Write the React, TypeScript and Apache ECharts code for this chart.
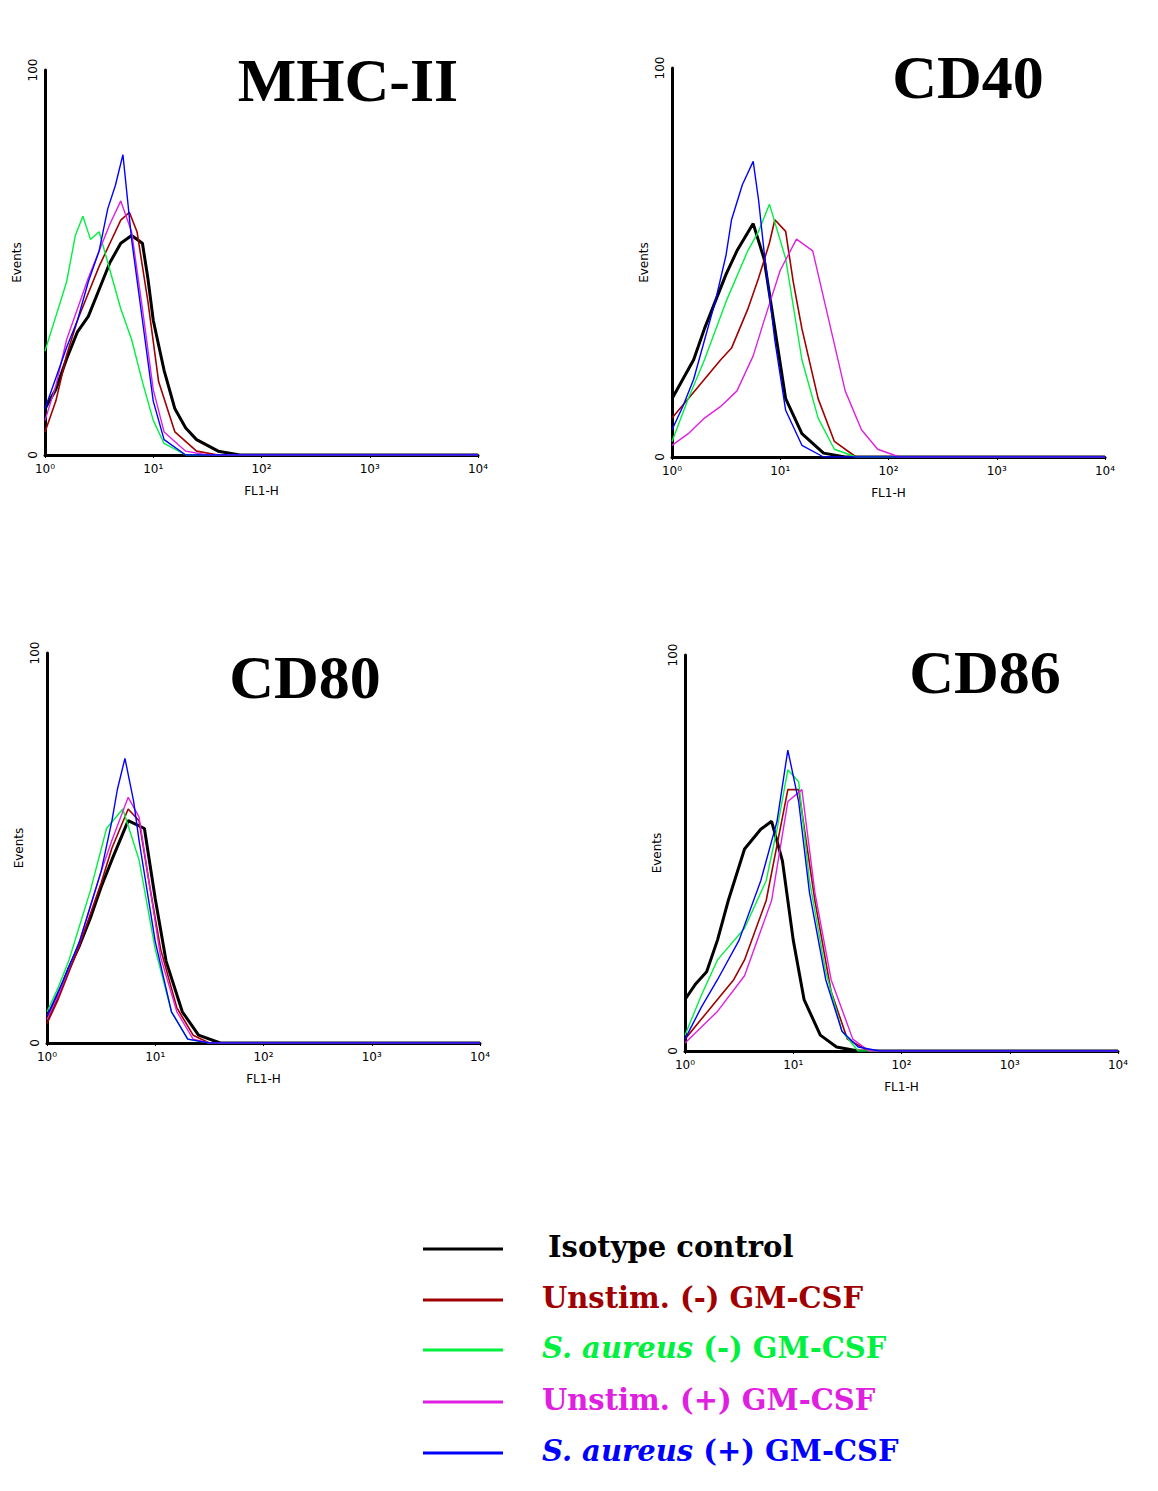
import { useEffect, useRef } from "react";
import * as echarts from "echarts";

// x in decades (log10 of FL1-H), y = events (%)
const decadeLabels = ["10⁰", "10¹", "10²", "10³", "10⁴"];
const seriesNames = ["Isotype control", "Unstim. (-) GM-CSF", "S. aureus (-) GM-CSF", "Unstim. (+) GM-CSF", "S. aureus (+) GM-CSF"];
const colors = ["#000000", "#a00000", "#00f040", "#e020e0", "#0000ff"];
const widths = [3, 1.6, 1.4, 1.4, 1.4];

const panelTitles = ["MHC-II", "CD40", "CD80", "CD86"];

const mhcBlack = [[0, 12], [0.1, 17], [0.2, 25], [0.3, 32], [0.4, 36], [0.5, 43], [0.6, 50], [0.7, 55], [0.8, 57], [0.9, 55], [0.95, 46], [1.0, 35], [1.1, 22], [1.2, 12], [1.3, 7], [1.4, 4], [1.6, 1], [1.8, 0], [4, 0]];
const mhcRed = [[0, 6], [0.1, 14], [0.2, 26], [0.3, 35], [0.4, 42], [0.5, 49], [0.6, 55], [0.7, 61], [0.78, 63], [0.85, 58], [0.95, 40], [1.05, 19], [1.2, 6], [1.4, 1], [1.6, 0], [4, 0]];
const mhcGreen = [[0, 27], [0.1, 36], [0.2, 45], [0.28, 57], [0.35, 62], [0.42, 56], [0.5, 58], [0.6, 48], [0.7, 38], [0.8, 30], [0.9, 19], [1.0, 9], [1.1, 3], [1.3, 0], [4, 0]];
const mhcMagenta = [[0, 9], [0.1, 18], [0.2, 30], [0.3, 38], [0.4, 46], [0.5, 53], [0.6, 60], [0.7, 66], [0.8, 58], [0.9, 38], [1.0, 17], [1.1, 6], [1.3, 1], [1.5, 0], [4, 0]];
const mhcBlue = [[0, 12], [0.1, 20], [0.2, 28], [0.3, 35], [0.4, 45], [0.5, 53], [0.58, 64], [0.65, 70], [0.72, 78], [0.8, 56], [0.9, 35], [1.0, 14], [1.1, 4], [1.3, 0], [4, 0]];

const cd40Black = [[0, 15], [0.1, 20], [0.2, 25], [0.3, 33], [0.4, 40], [0.5, 47], [0.6, 53], [0.75, 60], [0.85, 51], [0.95, 33], [1.05, 15], [1.2, 6], [1.4, 1], [1.6, 0], [4, 0]];
const cd40Red = [[0, 10], [0.15, 15], [0.3, 20], [0.45, 25], [0.55, 28], [0.7, 38], [0.8, 46], [0.9, 55], [0.95, 61], [1.05, 58], [1.12, 45], [1.2, 33], [1.35, 15], [1.5, 4], [1.7, 0], [4, 0]];
const cd40Green = [[0, 4], [0.15, 15], [0.3, 25], [0.5, 40], [0.7, 53], [0.8, 58], [0.9, 65], [1.05, 51], [1.2, 25], [1.35, 10], [1.5, 2], [1.7, 0], [4, 0]];
const cd40Magenta = [[0, 3], [0.15, 6], [0.3, 10], [0.45, 13], [0.6, 17], [0.75, 26], [0.85, 35], [1.0, 48], [1.15, 56], [1.3, 53], [1.45, 35], [1.6, 17], [1.75, 7], [1.9, 2], [2.1, 0], [4, 0]];
const cd40Blue = [[0, 7], [0.1, 13], [0.2, 20], [0.3, 30], [0.4, 40], [0.5, 52], [0.55, 61], [0.65, 70], [0.75, 76], [0.8, 66], [0.85, 53], [0.95, 30], [1.05, 12], [1.2, 3], [1.4, 0], [4, 0]];

const cd80Black = [[0, 6], [0.1, 12], [0.2, 19], [0.3, 25], [0.4, 32], [0.5, 40], [0.6, 47], [0.75, 57], [0.9, 55], [1.0, 37], [1.1, 21], [1.25, 8], [1.4, 2], [1.6, 0], [4, 0]];
const cd80Red = [[0, 5], [0.1, 11], [0.2, 18], [0.3, 25], [0.4, 33], [0.5, 41], [0.6, 50], [0.75, 60], [0.85, 57], [0.95, 40], [1.05, 24], [1.2, 9], [1.35, 2], [1.5, 0], [4, 0]];
const cd80Green = [[0, 8], [0.1, 14], [0.2, 21], [0.3, 30], [0.4, 39], [0.55, 55], [0.7, 60], [0.85, 47], [1.0, 24], [1.15, 8], [1.3, 1], [1.5, 0], [4, 0]];
const cd80Magenta = [[0, 6], [0.1, 12], [0.2, 19], [0.3, 26], [0.4, 35], [0.5, 44], [0.6, 52], [0.75, 63], [0.85, 58], [0.95, 40], [1.05, 22], [1.2, 8], [1.35, 1], [1.5, 0], [4, 0]];
const cd80Blue = [[0, 7], [0.15, 16], [0.3, 26], [0.4, 35], [0.5, 44], [0.6, 57], [0.65, 65], [0.72, 73], [0.8, 62], [0.85, 52], [1.0, 26], [1.15, 8], [1.3, 1], [1.5, 0], [4, 0]];

const cd86Black = [[0, 13], [0.1, 17], [0.2, 20], [0.3, 28], [0.4, 38], [0.55, 51], [0.7, 56], [0.8, 58], [0.9, 48], [1.0, 28], [1.1, 13], [1.25, 4], [1.4, 1], [1.6, 0], [4, 0]];
const cd86Red = [[0, 3], [0.15, 8], [0.3, 13], [0.45, 18], [0.55, 23], [0.75, 38], [0.85, 52], [0.95, 66], [1.05, 66], [1.2, 38], [1.35, 15], [1.5, 3], [1.7, 0], [4, 0]];
const cd86Green = [[0, 4], [0.15, 14], [0.3, 23], [0.55, 31], [0.75, 43], [0.85, 56], [0.95, 71], [1.05, 68], [1.15, 43], [1.3, 20], [1.45, 5], [1.6, 0], [4, 0]];
const cd86Magenta = [[0, 2], [0.15, 6], [0.3, 10], [0.55, 19], [0.8, 38], [0.95, 63], [1.08, 66], [1.2, 40], [1.35, 18], [1.55, 3], [1.7, 0], [4, 0]];
const cd86Blue = [[0, 3], [0.15, 11], [0.3, 18], [0.5, 28], [0.7, 43], [0.85, 58], [0.95, 76], [1.05, 63], [1.15, 40], [1.3, 18], [1.45, 5], [1.6, 1], [1.8, 0], [4, 0]];

const panelData = [
  [mhcBlack, mhcRed, mhcGreen, mhcMagenta, mhcBlue],
  [cd40Black, cd40Red, cd40Green, cd40Magenta, cd40Blue],
  [cd80Black, cd80Red, cd80Green, cd80Magenta, cd80Blue],
  [cd86Black, cd86Red, cd86Green, cd86Magenta, cd86Blue],
];

const grids = [
  { left: 45, top: 70, width: 433, height: 385 },
  { left: 672, top: 68, width: 433, height: 389 },
  { left: 47, top: 653, width: 433, height: 390 },
  { left: 685, top: 655, width: 433, height: 396 },
];
const titlePos = [[348, 80], [968, 77], [305, 677], [985, 672]];

export default function App() {
  const ref = useRef<HTMLDivElement>(null);

  useEffect(() => {
    if (!ref.current) return;
    const chart = echarts.init(ref.current, null, { renderer: "svg" });
    const axisLine = { lineStyle: { color: "#000", width: 3 } };
    const lab = { fontFamily: "DejaVu Sans", fontSize: 12, color: "#000" };
    const legendY = [1249, 1300, 1350, 1402, 1453];
    const serif = "'Liberation Serif', 'DejaVu Serif', serif";
    const legFont = "'DejaVu Serif', serif";
    const rich = (c: string) => ({
      i: { fontStyle: "italic", fontWeight: "bold", fontSize: 29, fontFamily: legFont, fill: c, color: c },
    });
    chart.setOption({
      animation: false,
      backgroundColor: "#fff",
      grid: grids,
      xAxis: grids.map((_, i) => ({
        type: "value",
        gridIndex: i,
        min: 0,
        max: 4,
        interval: 1,
        axisLine: { show: true, ...axisLine },
        axisTick: { show: true, length: 3, lineStyle: { color: "#000" } },
        splitLine: { show: false },
        axisLabel: { ...lab, formatter: (v: number) => decadeLabels[v] },
        name: "FL1-H",
        nameLocation: "middle",
        nameGap: 30,
        nameTextStyle: lab,
      })),
      yAxis: grids.map((_, i) => ({
        type: "value",
        gridIndex: i,
        min: 0,
        max: 100,
        interval: 100,
        axisLine: { show: true, ...axisLine },
        axisTick: { show: false },
        splitLine: { show: false },
        axisLabel: { ...lab, rotate: 90, margin: 6 },
        name: "Events",
        nameLocation: "middle",
        nameGap: 22,
        nameRotate: 90,
        nameTextStyle: lab,
      })),
      series: panelData.flatMap((curves, p) =>
        curves.map((d, s) => ({
          type: "line",
          name: seriesNames[s],
          xAxisIndex: p,
          yAxisIndex: p,
          data: d,
          showSymbol: false,
          z: s === 0 ? 1 : 2,
          lineStyle: { color: colors[s], width: widths[s] },
        }))
      ),
      graphic: [
        ...panelTitles.map((t, i) => ({
          type: "text",
          x: titlePos[i][0],
          y: titlePos[i][1],
          style: {
            text: t,
            fontFamily: serif,
            fontWeight: "bold",
            fontSize: 62,
            fill: "#000",
            align: "center",
            verticalAlign: "middle",
          },
        })),
        ...legendY.map((y, i) => ({
          type: "line",
          shape: { x1: 423, y1: y, x2: 503, y2: y },
          style: { stroke: colors[i], lineWidth: 3 },
        })),
        ...[
          "Isotype control",
          "Unstim. (-) GM-CSF",
          "{i|S. aureus} (-) GM-CSF",
          "Unstim. (+) GM-CSF",
          "{i|S. aureus} (+) GM-CSF",
        ].map((t, i) => ({
          type: "text",
          x: i === 0 ? 548 : 542,
          y: legendY[i] - 2,
          style: {
            text: t,
            rich: rich(colors[i]),
            fontFamily: legFont,
            fontWeight: "bold",
            fontSize: 29,
            fill: colors[i],
            verticalAlign: "middle",
          },
        })),
      ],
    });
    return () => chart.dispose();
  }, []);

  return <div ref={ref} style={{ position: "absolute", left: 0, top: 0, width: 1158, height: 1491 }} />;
}
